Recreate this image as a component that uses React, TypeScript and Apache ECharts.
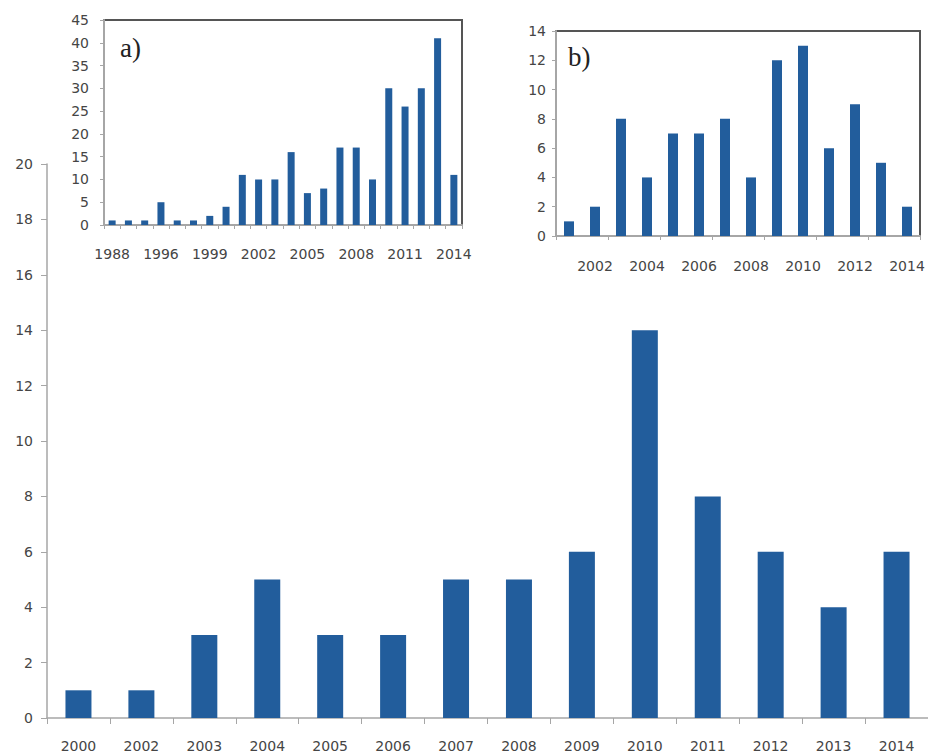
import React, { useEffect, useRef } from "react";
import * as echarts from "echarts";

// Main chart
const mainYears = ["2000", "2002", "2003", "2004", "2005", "2006", "2007", "2008", "2009", "2010", "2011", "2012", "2013", "2014"];
const mainValues = [1, 1, 3, 5, 3, 3, 5, 5, 6, 14, 8, 6, 4, 6];

// Inset a)
const aYears = ["1988", "1992", "1994", "1996", "1997", "1998", "1999", "2000", "2001", "2002", "2003", "2004", "2005", "2006", "2007", "2008", "2009", "2010", "2011", "2012", "2013", "2014"];
const aValues = [1, 1, 1, 5, 1, 1, 2, 4, 11, 10, 10, 16, 7, 8, 17, 17, 10, 30, 26, 30, 41, 11];

// Inset b)
const bYears = ["2001", "2002", "2003", "2004", "2005", "2006", "2007", "2008", "2009", "2010", "2011", "2012", "2013", "2014"];
const bValues = [1, 2, 8, 4, 7, 7, 8, 4, 12, 13, 6, 9, 5, 2];

const BAR = "#225d9c";
const TEXT = "#454545";
const AXIS = "#a6a6a6";
const FONT = "DejaVu Sans";

export default function App() {
  const ref = useRef<HTMLDivElement>(null);
  useEffect(() => {
    if (!ref.current) return;
    const chart = echarts.init(ref.current, undefined, { renderer: "svg" });
    const lbl = { color: TEXT, fontFamily: FONT, fontSize: 14 };
    chart.setOption({
      animation: false,
      backgroundColor: "#ffffff",
      grid: [
        { left: 47, top: 164, width: 896, height: 554 },
        { left: 104, top: 20, width: 358, height: 205, show: true, borderColor: "#555", borderWidth: 2, backgroundColor: "#fff", z: 5 },
        { left: 556, top: 31, width: 364, height: 205, show: true, borderColor: "#555", borderWidth: 2, backgroundColor: "#fff", z: 5 },
      ],
      xAxis: [
        {
          type: "category", gridIndex: 0, data: mainYears,
          axisLine: { lineStyle: { color: AXIS, width: 1.5 } },
          axisTick: { show: true, length: 6, lineStyle: { color: AXIS } },
          axisLabel: { ...lbl, interval: 0, margin: 21 },
        },
        {
          type: "category", gridIndex: 1, data: aYears, z: 6,
          axisLine: { lineStyle: { color: AXIS, width: 2 } },
          axisTick: { show: true, length: 4, interval: 0, lineStyle: { color: AXIS } },
          axisLabel: { ...lbl, interval: 2, margin: 22 },
        },
        {
          type: "category", gridIndex: 2, data: bYears, z: 6,
          axisLine: { lineStyle: { color: AXIS, width: 2 } },
          axisTick: { show: true, length: 4, interval: 1, lineStyle: { color: AXIS } },
          axisLabel: { ...lbl, interval: (i: number) => i % 2 === 1, margin: 23 },
        },
      ],
      yAxis: [
        {
          type: "value", gridIndex: 0, min: 0, max: 20, interval: 2,
          axisLine: { show: true, lineStyle: { color: AXIS, width: 1.5 } },
          axisTick: { show: true, length: 6, lineStyle: { color: AXIS } },
          axisLabel: { ...lbl, margin: 14 },
          splitLine: { show: false },
        },
        {
          type: "value", gridIndex: 1, min: 0, max: 45, interval: 5, z: 6,
          axisLine: { show: true, lineStyle: { color: AXIS, width: 2 } },
          axisTick: { show: true, length: 4, lineStyle: { color: AXIS } },
          axisLabel: { ...lbl, margin: 15 },
          splitLine: { show: false },
        },
        {
          type: "value", gridIndex: 2, min: 0, max: 14, interval: 2, z: 6,
          axisLine: { show: true, lineStyle: { color: AXIS, width: 2 } },
          axisTick: { show: true, length: 4, lineStyle: { color: AXIS } },
          axisLabel: { ...lbl, margin: 10 },
          splitLine: { show: false },
        },
      ],
      series: [
        { type: "bar", xAxisIndex: 0, yAxisIndex: 0, data: mainValues, barWidth: 26, itemStyle: { color: BAR } },
        { type: "bar", xAxisIndex: 1, yAxisIndex: 1, data: aValues, barWidth: 7, itemStyle: { color: BAR }, z: 7 },
        { type: "bar", xAxisIndex: 2, yAxisIndex: 2, data: bValues, barWidth: 10, itemStyle: { color: BAR }, z: 7 },
      ],
      graphic: [
        { type: "text", left: 120, top: 34, z: 100, style: { text: "a)", font: '27px "Liberation Serif"', fill: "#222" } },
        { type: "text", left: 568, top: 43, z: 100, style: { text: "b)", font: '27px "Liberation Serif"', fill: "#222" } },
      ],
    });
    return () => chart.dispose();
  }, []);
  return <div ref={ref} style={{ position: "fixed", left: 0, top: 0, width: 928, height: 755 }} />;
}
